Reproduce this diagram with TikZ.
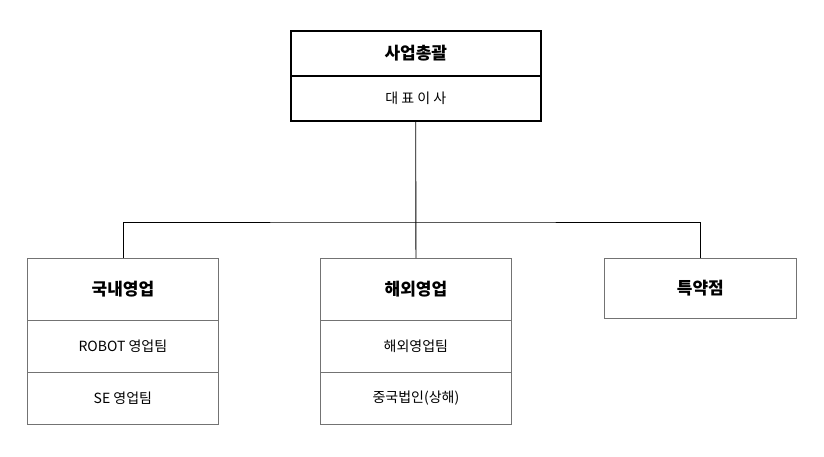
\documentclass[tikz,border=0pt]{standalone}
\usepackage{fontspec}
\setmainfont{Noto Sans CJK KR}
\newfontfamily\krb{Noto Sans CJK KR Bold}
\begin{document}
\begin{tikzpicture}[x=1pt,y=-1pt,
  gbox/.style={draw=black!55,line width=0.8pt},
  kbox/.style={draw=black,line width=1.6pt},
  ttl/.style={font=\fontsize{17}{20}\selectfont\bfseries},
  txt/.style={font=\fontsize{14}{17}\selectfont},
  conn/.style={draw=black,line width=0.8pt}]
\useasboundingbox (0,0) rectangle (824,457);
% top box
\node[kbox,minimum width=250pt,minimum height=45pt,anchor=north west,ttl,inner sep=0] (top) at (290,30) {사업총괄};
\node[kbox,minimum width=250pt,minimum height=45pt,anchor=north west,txt,inner sep=0] (topb) at (290,75) {대 표 이 사};
% boxes
\node[gbox,minimum width=191pt,minimum height=62pt,anchor=north west,ttl,inner sep=0] (a) at (27,258) {국내영업};
\node[gbox,minimum width=191pt,minimum height=52pt,anchor=north west,txt,inner sep=0] (a1) at (27,320) {ROBOT 영업팀};
\node[gbox,minimum width=191pt,minimum height=52pt,anchor=north west,txt,inner sep=0] (a2) at (27,372) {SE 영업팀};
\node[gbox,minimum width=191pt,minimum height=62pt,anchor=north west,ttl,inner sep=0] (b) at (320,258) {해외영업};
\node[gbox,minimum width=191pt,minimum height=52pt,anchor=north west,txt,inner sep=0] (b1) at (320,320) {해외영업팀};
\node[gbox,minimum width=191pt,minimum height=52pt,anchor=north west,txt,inner sep=0] (b2) at (320,372) {중국법인(상해)};
\node[gbox,minimum width=192pt,minimum height=60pt,anchor=north west,ttl,inner sep=0] (c) at (604,258) {특약점};
\coordinate (j) at (414,222);
\draw[conn] (topb.south) -- (b.north);
\draw[conn] (a.north) |- (j) -| (c.north);
\end{tikzpicture}
\end{document}
